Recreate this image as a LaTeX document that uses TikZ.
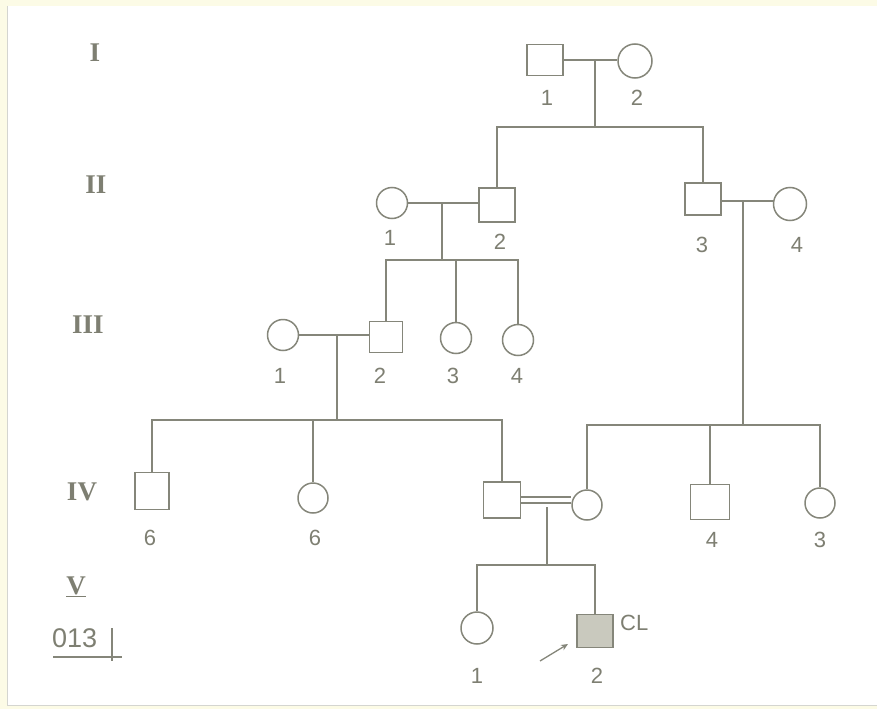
\documentclass[tikz,border=0pt]{standalone}
\usepackage{fontspec}
\setmainfont{Liberation Sans}
\newfontfamily\romfont{Liberation Serif}
\usetikzlibrary{arrows.meta}
\definecolor{lc}{HTML}{85867A}
\definecolor{tc}{HTML}{7E7F72}
\definecolor{bgy}{HTML}{FCFBE6}
\definecolor{shade}{HTML}{C9C9BE}
\tikzset{
  conn/.style={draw=lc, line width=1.5pt},
  malebox/.style={draw=lc, line width=1.5pt, rectangle, minimum width=36pt, minimum height=34pt, inner sep=0pt, fill=white},
  femcirc/.style={draw=lc, line width=1.5pt, circle, minimum size=31pt, inner sep=0pt, fill=white},
  num/.style={text=tc, font=\fontsize{22}{22}\selectfont, inner sep=0pt},
  gen/.style={text=tc, font=\romfont\bfseries\fontsize{27}{27}\selectfont, inner sep=0pt},
}
\begin{document}
\begin{tikzpicture}[x=1pt,y=-1pt]
\useasboundingbox (0,0) rectangle (877,709);
\fill[bgy] (0,0) rectangle (877,709);
\fill[white] (7,6) rectangle (877,705);
\draw[lc!35, line width=1pt] (7,6) -- (7,705) -- (877,705);

% generation labels
\node[gen] (gI) at (95,53) {I};
\node[gen] (gII) at (96,185) {II};
\node[gen] (gIII) at (88,325) {III};
\node[gen] (gIV) at (82,492) {IV};
\node[gen] (gV) at (76,587) {\underline{V}};
\node[text=tc, font=\fontsize{27}{27}\selectfont, inner sep=0pt, anchor=west] (code) at (52,638) {013};
\coordinate (ul1) at (53,657);
\coordinate (ul2) at (122,657);
\coordinate (bar1) at (112,628);
\coordinate (bar2) at (112,661);
\draw[lc, line width=1.5pt] (ul1) -- (ul2);
\draw[lc, line width=1.5pt] (bar1) -- (bar2);

% generation I
\node[malebox, minimum height=31pt] (I1) at (545,60) {};
\node[femcirc, minimum size=34pt] (I2) at (635,61) {};
% generation II
\node[femcirc] (II1) at (392,203) {};
\node[malebox] (II2) at (497,205) {};
\node[malebox, minimum height=32pt] (II3) at (703,199) {};
\node[femcirc, minimum size=33pt] (II4) at (790,204) {};
% generation III
\node[femcirc] (III1) at (283,335) {};
\node[malebox, minimum width=33pt, minimum height=31pt] (III2) at (386,337) {};
\node[femcirc] (III3) at (456,338) {};
\node[femcirc] (III4) at (518,340) {};
% generation IV
\node[malebox, minimum width=34pt, minimum height=37pt] (IVa) at (152,491) {};
\node[femcirc, minimum size=30pt] (IVb) at (313,498) {};
\node[malebox, minimum width=37pt, minimum height=36pt] (IVh) at (502,500) {};
\node[femcirc, minimum size=30pt] (IVw) at (587,505) {};
\node[malebox, minimum width=39pt, minimum height=35pt] (IV4) at (710,502) {};
\node[femcirc, minimum size=30pt] (IV3) at (820,503) {};
% generation V
\node[femcirc, minimum size=32pt] (V1) at (477,628) {};
\node[malebox, minimum width=36pt, minimum height=33pt, fill=shade] (V2) at (595,631) {};

% labels
\node[num] (lI1) at (547,98) {1};
\node[num] (lI2) at (637,98) {2};
\node[num] (lII1) at (390,238) {1};
\node[num] (lII2) at (500,242) {2};
\node[num] (lII3) at (702,245) {3};
\node[num] (lII4) at (797,245) {4};
\node[num] (lIII1) at (280,376) {1};
\node[num] (lIII2) at (380,376) {2};
\node[num] (lIII3) at (453,376) {3};
\node[num] (lIII4) at (517,376) {4};
\node[num] (lIVa) at (150,538) {6};
\node[num] (lIVb) at (315,538) {6};
\node[num] (lIV4) at (712,540) {4};
\node[num] (lIV3) at (820,540) {3};
\node[num] (lV1) at (477,676) {1};
\node[num] (lV2) at (597,676) {2};
\node[num, anchor=west] (cl) at (620,623) {CL};

% coordinates for lines
\coordinate (m1) at (595,61);
\coordinate (s1) at (595,127);
\coordinate (m2) at (442,203);
\coordinate (s2) at (442,260);
\coordinate (m3) at (743,201);
\coordinate (s3) at (743,425);
\coordinate (m4) at (337,335);
\coordinate (s4) at (337,420);
\coordinate (m5) at (547,507);
\coordinate (s5) at (547,565);

% generation I family
\draw[conn] (I1.east) -- (I1.east -| I2.west);
\draw[conn] (m1) -- (s1);
\draw[conn] (II2.north) -- (II2.north |- s1) -- (II3.north |- s1) -- (II3.north);
% II1 x II2
\draw[conn] (II1.east) -- (II1.east -| II2.west);
\draw[conn] (m2) -- (s2);
\draw[conn] (III2.north) -- (III2.north |- s2) -- (III4.north |- s2) -- (III4.north);
\draw[conn] (III3.north |- s2) -- (III3.north);
% II3 x II4
\draw[conn] (II3.east |- m3) -- (II4.west |- m3);
\draw[conn] (m3) -- (s3);
\draw[conn] (IVw.north) -- (IVw.north |- s3) -- (IV3.north |- s3) -- (IV3.north);
\draw[conn] (IV4.north |- s3) -- (IV4.north);
% III1 x III2
\draw[conn] (III1.east) -- (III1.east -| III2.west);
\draw[conn] (m4) -- (s4);
\draw[conn] (IVa.north) -- (IVa.north |- s4) -- (IVh.north |- s4) -- (IVh.north);
\draw[conn] (IVb.north |- s4) -- (IVb.north);
% consanguineous marriage IVh x IVw
\draw[conn] ([yshift=-3pt]IVh.east) -- ([yshift=-3pt]IVh.east -| IVw.west);
\draw[conn] ([yshift=3pt]IVh.east) -- ([yshift=3pt]IVh.east -| IVw.west);
\draw[conn] (m5) -- (s5);
\draw[conn] (V1.north) -- (V1.north |- s5) -- (V2.north |- s5) -- (V2.north);

% proband arrow
\coordinate (ar1) at (540,661);
\coordinate (ar2) at (568,644);
\draw[conn, line width=1.3pt, -{Stealth[length=7pt,width=6pt]}] (ar1) -- (ar2);
\end{tikzpicture}
\end{document}
